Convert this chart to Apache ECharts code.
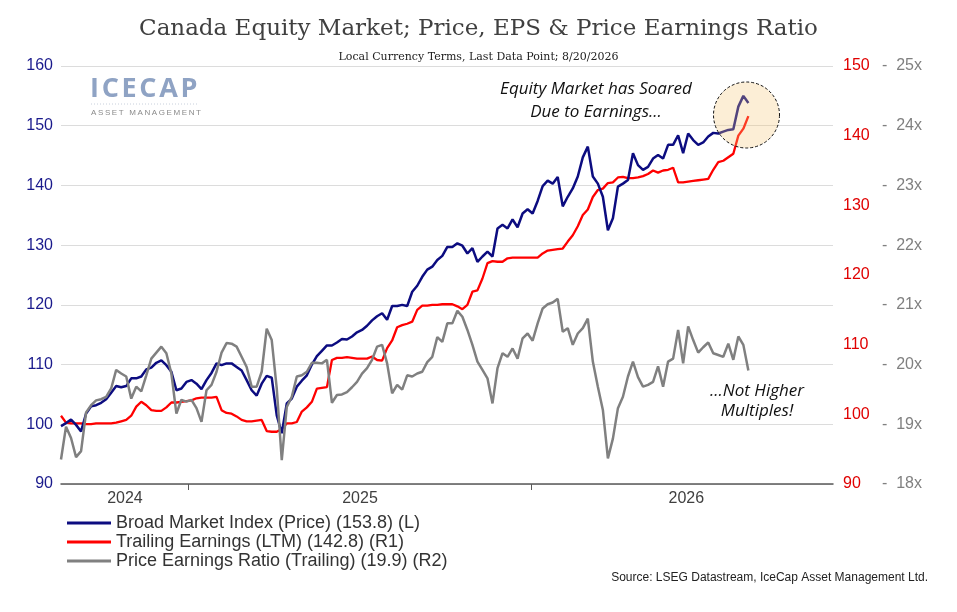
<!DOCTYPE html>
<html>
<head>
<meta charset="UTF-8">
<title>Canada Equity Market</title>
<script src="https://cdn.jsdelivr.net/npm/echarts@6/dist/echarts.min.js"></script>
<style>
  *{margin:0;padding:0}
  body{background:#fff}
  #chart{width:957px;height:612px}
</style>
</head>
<body>
<div id="chart"></div>
<script>
// sampled every ~5.3 days from 19 Aug 2024 to 20 Aug 2026
var startDay = Date.UTC(2024, 7, 19);
var stepDays = 731 / 137;

// Broad Market Index (Price), left axis
var priceIdx = [
  99.7,100.2,100.8,99.9,98.8,101.8,103.0,103.2,103.6,104.2,105.3,106.4,106.2,106.4,107.7,107.7,108.0,109.2,109.5,110.3,
  110.7,109.9,108.8,105.7,106.0,107.1,107.4,106.8,105.9,107.4,108.6,110.2,109.9,110.2,110.2,
  109.6,109.0,107.4,105.7,104.8,106.8,108.1,107.8,101.5,98.5,103.5,104.3,106.3,107.3,108.2,110.0,
  111.4,112.3,113.2,113.2,113.7,114.3,114.2,114.7,115.4,115.8,116.5,117.4,118.1,118.6,117.5,119.8,119.8,120.0,119.8,122.2,123.2,
  124.7,125.9,126.4,127.5,128.2,129.7,129.7,130.3,129.9,128.6,129.5,127.2,128.1,128.9,128.1,132.8,133.4,132.8,134.3,133.0,
  135.3,136.0,135.3,137.4,139.9,140.8,140.3,141.4,136.5,138.1,139.5,141.5,144.7,146.5,141.5,140.3,
  138.1,132.5,134.5,139.8,140.3,140.9,145.4,143.4,142.6,143.1,144.5,145.1,144.5,146.8,146.8,148.4,145.4,148.7,147.6,146.8,
  147.2,148.2,148.8,148.7,149.0,149.3,149.4,153.2,155.0,153.8
];

// Trailing Earnings (LTM), right axis 1
var eps = [
  99.8,98.8,98.7,98.7,98.7,98.6,98.6,98.7,98.7,98.7,98.7,98.8,99.0,99.2,99.8,101.1,101.8,101.3,100.6,100.5,
  100.5,101.0,101.7,101.7,101.8,101.9,102.0,102.3,102.4,102.4,102.4,102.5,100.6,100.2,100.1,
  99.7,99.2,99.0,99.0,99.1,99.2,97.6,97.5,97.5,97.9,98.7,98.7,98.9,100.4,101.0,101.8,
  103.7,103.8,103.9,107.8,108.1,108.1,108.2,108.1,108.0,108.0,108.0,108.3,107.8,107.7,109.5,110.6,112.5,112.8,113.0,113.3,115.0,
  115.6,115.6,115.7,115.7,115.8,115.8,115.8,115.5,115.1,115.7,117.6,117.8,119.5,121.7,122.0,121.9,121.9,122.4,122.5,122.5,
  122.5,122.5,122.5,122.5,123.1,123.5,123.6,123.7,123.8,124.8,125.7,127.0,128.6,129.4,131.2,132.2,
  132.4,133.2,133.3,134.0,134.1,133.9,133.9,134.0,134.2,134.5,135.0,134.7,135.0,135.1,135.4,133.3,133.3,133.4,133.5,133.6,
  133.7,133.8,135.1,136.2,136.4,136.9,137.4,140.0,141.0,142.8
];

// Price Earnings Ratio (Trailing), right axis 2
var peRatio = [
  18.41,18.96,18.77,18.45,18.55,19.20,19.32,19.40,19.42,19.46,19.60,19.91,19.85,19.80,19.43,19.63,19.55,19.82,20.10,20.20,
  20.30,20.19,19.85,19.18,19.41,19.38,19.41,19.27,19.04,19.57,19.66,19.88,20.20,20.36,20.35,
  20.30,20.13,19.96,19.63,19.63,19.88,20.60,20.41,19.60,18.40,19.29,19.46,19.80,19.82,19.88,20.03,
  20.03,20.02,20.08,19.36,19.49,19.50,19.54,19.62,19.71,19.85,19.94,20.08,20.30,20.33,20.02,19.52,19.66,19.58,19.82,19.80,19.85,
  19.88,20.04,20.13,20.46,20.38,20.69,20.69,20.90,20.80,20.58,20.33,20.05,19.91,19.77,19.35,19.94,20.19,20.13,20.27,20.10,
  20.44,20.52,20.40,20.69,20.94,21.01,21.04,21.10,20.55,20.61,20.33,20.52,20.61,20.77,20.05,19.63,
  19.24,18.43,18.76,19.27,19.46,19.80,20.05,19.79,19.63,19.66,19.71,19.97,19.63,20.05,20.10,20.58,20.02,20.64,20.41,20.20,
  20.29,20.37,20.19,20.16,20.13,20.35,20.08,20.47,20.33,19.90
];

var seriesNames = [
  'Broad Market Index (Price) (153.8) (L)',
  'Trailing Earnings (LTM) (142.8) (R1)',
  'Price Earnings Ratio (Trailing) (19.9) (R2)'
];
var yearTicks = [Date.UTC(2025, 0, 1), Date.UTC(2026, 0, 1)];
var yearLabelAt = [Date.UTC(2024, 9, 26), Date.UTC(2025, 6, 3), Date.UTC(2026, 5, 15)];

function pairs(vals) {
  return vals.map(function (v, i) { return [startDay + i * stepDays * 86400000, v]; });
}

var chart = echarts.init(document.getElementById('chart'));
var option = {
  animation: false,
  backgroundColor: '#fff',
  title: [{
    text: 'Canada Equity Market; Price, EPS & Price Earnings Ratio',
    left: 'center', top: 13,
    textStyle: {fontFamily: 'DejaVu Serif', fontSize: 23, fontWeight: 'normal', color: '#404040'}
  }, {
    text: 'Local Currency Terms, Last Data Point; 8/20/2026',
    left: 'center', top: 47,
    textStyle: {fontFamily: 'DejaVu Serif', fontSize: 11, fontWeight: 'normal', color: '#222'}
  }],
  grid: {left: 61, right: 124, top: 66, bottom: 128},
  legend: {
    orient: 'vertical', left: 67, top: 514, padding: 0,
    icon: 'rect', itemWidth: 44, itemHeight: 3, itemGap: 1,
    textStyle: {fontFamily: 'Liberation Sans', fontSize: 18, lineHeight: 16, color: '#333'},
    data: seriesNames
  },
  xAxis: {
    type: 'value',
    min: startDay,
    max: Date.UTC(2026, 10, 18),
    axisLine: {lineStyle: {color: '#595959', width: 1.5}},
    axisTick: {show: true, customValues: yearTicks, length: 6, lineStyle: {color: '#595959'}},
    axisLabel: {
      customValues: yearLabelAt,
      formatter: function (v) { return String(new Date(v).getUTCFullYear()); },
      color: '#404040', fontFamily: 'Liberation Sans', fontSize: 16, margin: 7
    },
    splitLine: {show: false}
  },
  yAxis: [{
    type: 'value', min: 90, max: 160, interval: 10, position: 'left',
    axisLine: {show: false}, axisTick: {show: false},
    axisLabel: {color: '#1a1a8c', fontFamily: 'Liberation Sans', fontSize: 16, margin: 8},
    splitLine: {lineStyle: {color: '#dcdcdc', width: 1}}
  }, {
    type: 'value', min: 90, max: 150, interval: 10, position: 'right',
    axisLine: {show: false}, axisTick: {show: false},
    axisLabel: {color: '#e00000', fontFamily: 'Liberation Sans', fontSize: 16, margin: 10},
    splitLine: {show: false}
  }, {
    type: 'value', min: 18, max: 25, interval: 1, position: 'right', offset: 41,
    axisLine: {show: false}, axisTick: {show: false},
    axisLabel: {
      color: '#808080', fontFamily: 'Liberation Sans', fontSize: 16, margin: 8,
      formatter: function (v) { return '-  ' + v + 'x'; }
    },
    splitLine: {show: false}
  }],
  series: [{
    name: seriesNames[1], type: 'line', yAxisIndex: 1, showSymbol: false,
    data: pairs(eps), color: '#ff0000', lineStyle: {width: 2.3}, z: 2
  }, {
    name: seriesNames[0], type: 'line', yAxisIndex: 0, showSymbol: false,
    data: pairs(priceIdx), color: '#0c0c80', lineStyle: {width: 2.5}, z: 3
  }, {
    name: seriesNames[2], type: 'line', yAxisIndex: 2, showSymbol: false,
    data: pairs(peRatio), color: '#808080', lineStyle: {width: 2.5}, z: 4
  }],
  graphic: [
    {type: 'text', left: 90, top: 76, z: 10,
      style: {text: 'I\u200aC\u200aE\u200aC\u200aA\u200aP', font: 'bold 27px "Open Sans"', fill: '#8fa3c4'}},
    {type: 'line', z: 10, shape: {x1: 91, y1: 104, x2: 199, y2: 104},
      style: {stroke: '#c8d0dc', lineWidth: 1, lineDash: [1, 2]}},
    {type: 'text', left: 91, top: 109, z: 10,
      style: {text: 'A\u2009S\u2009S\u2009E\u2009T\u2002\u2009M\u2009A\u2009N\u2009A\u2009G\u2009E\u2009M\u2009E\u2009N\u2009T',
        font: '8px "Liberation Sans"', fill: '#8a8a8a'}},
    {type: 'text', z: 10, x: 596, y: 78,
      style: {text: 'Equity Market has Soared\nDue to Earnings...', font: 'italic 17px "Open Sans"',
        fill: '#111', align: 'center', lineHeight: 23}},
    {type: 'text', z: 10, x: 757, y: 381,
      style: {text: '...Not Higher\nMultiples!', font: 'italic 17px "Open Sans"',
        fill: '#111', align: 'center', lineHeight: 20}},
    {type: 'circle', z: 20, shape: {cx: 746.5, cy: 115, r: 33},
      style: {fill: 'rgba(245,200,120,0.3)', stroke: '#111', lineWidth: 1, lineDash: [3, 2]}},
    {type: 'text', z: 10, right: 29, top: 572,
      style: {text: 'Source: LSEG Datastream, IceCap Asset Management Ltd.', font: '12px "Liberation Sans"', fill: '#222'}}
  ]
};
chart.setOption(option);
</script>
</body>
</html>
